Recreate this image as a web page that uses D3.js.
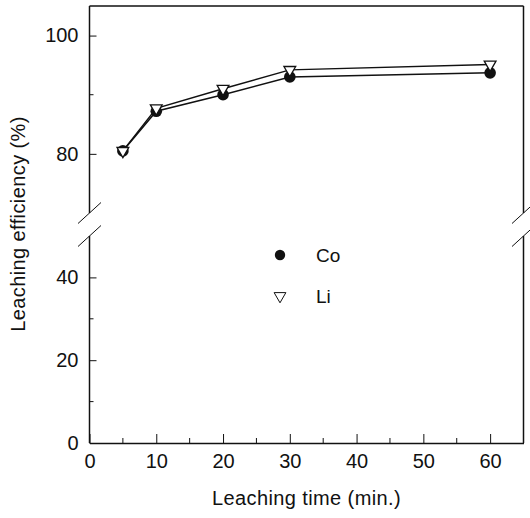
<!DOCTYPE html>
<html>
<head>
<meta charset="utf-8">
<script src="https://cdn.jsdelivr.net/npm/d3@7"></script>
<style>
  html, body { margin: 0; padding: 0; background: #fff; }
  svg { display: block; font-family: "Liberation Sans", Arial, sans-serif; }
</style>
</head>
<body>
<svg width="530" height="518"></svg>
<script>
// data
const times = [5, 10, 20, 30, 60];
const coValues = [80.5, 87.2, 90.0, 93.0, 93.7];
const liValues = [80.5, 87.7, 91.0, 94.2, 95.1];
const seriesNames = ['Co', 'Li'];
const xTicks = [0, 10, 20, 30, 40, 50, 60];
const xMinor = [5, 15, 25, 35, 45, 55];
const yTicksUpper = [80, 100];
const yMinorUpper = [90];
const yTicksLower = [0, 20, 40];
const yMinorLower = [10, 30];

const svg = d3.select('svg');
const left = 89.5, right = 523.5;
const upperTop = 6, upperBottom = 213;
const lowerTop = 236, lowerBottom = 443;

const x = d3.scaleLinear().domain([0, 65]).range([left, right]);
const yUp = d3.scaleLinear().domain([70, 105]).range([upperBottom, upperTop]);
const yLo = d3.scaleLinear().domain([0, 50]).range([lowerBottom, lowerTop]);
const y = v => (v >= 70 ? yUp(v) : yLo(v));

const ink = '#111';

// --- frame (top, right, left axis in two pieces) ---
const frame = svg.append('g').attr('stroke', ink).attr('fill', 'none');
frame.append('line').attr('x1', left).attr('x2', right).attr('y1', upperTop).attr('y2', upperTop).attr('stroke-width', 1.3);
[left, right].forEach(px => {
    frame.append('line').attr('x1', px).attr('x2', px).attr('y1', upperTop).attr('y2', upperBottom).attr('stroke-width', 1.5);
    frame.append('line').attr('x1', px).attr('x2', px).attr('y1', lowerTop).attr('y2', lowerBottom).attr('stroke-width', 1.5);
    // break marks
    [upperBottom, lowerTop].forEach(py => {
        frame.append('line')
            .attr('x1', px - 11.5).attr('y1', py + 10.5)
            .attr('x2', px + 11.5).attr('y2', py - 10.5)
            .attr('stroke-width', 1);
    });
});

// --- x axis ---
const xAxis = d3.axisBottom(x).tickValues(xTicks).tickSize(-9).tickSizeOuter(0).tickPadding(11);
const gx = svg.append('g').attr('transform', `translate(0,${lowerBottom})`).call(xAxis);
gx.select('.domain').attr('stroke', ink).attr('stroke-width', 1.5);
gx.selectAll('.tick line').attr('stroke', ink).attr('stroke-width', 1);
gx.selectAll('.tick text').attr('fill', ink).style('font-size', '20px');
svg.append('g').selectAll('line').data(xMinor).join('line')
    .attr('x1', d => x(d)).attr('x2', d => x(d))
    .attr('y1', lowerBottom).attr('y2', lowerBottom - 5)
    .attr('stroke', ink).attr('stroke-width', 1);

// --- y axes (upper and lower segment) ---
function yAxisPart(scale, ticks, minor) {
    const g = svg.append('g').attr('transform', `translate(${left},0)`)
        .call(d3.axisLeft(scale).tickValues(ticks).tickSize(-7).tickPadding(11));
    g.select('.domain').remove();
    g.selectAll('.tick line').attr('stroke', ink).attr('stroke-width', 1);
    g.selectAll('.tick text').attr('fill', ink).style('font-size', '20px');
    g.selectAll('.minor').data(minor).join('line')
        .attr('class', 'minor')
        .attr('x1', 0).attr('x2', 4)
        .attr('y1', d => scale(d)).attr('y2', d => scale(d))
        .attr('stroke', ink).attr('stroke-width', 1);
}
yAxisPart(yUp, yTicksUpper, yMinorUpper);
yAxisPart(yLo, yTicksLower, yMinorLower);

// --- axis titles ---
svg.append('text')
    .attr('x', (left + right) / 2).attr('y', 505)
    .attr('text-anchor', 'middle')
    .style('font-size', '20px').style('letter-spacing', '0.4px')
    .attr('fill', ink)
    .text('Leaching time (min.)');

svg.append('text')
    .attr('transform', 'translate(25,224) rotate(-90)')
    .attr('text-anchor', 'middle')
    .style('font-size', '20px').style('letter-spacing', '0.4px')
    .attr('fill', ink)
    .text('Leaching efficiency (%)');

// --- lines ---
const line = d3.line().x(d => x(d[0])).y(d => y(d[1]));
const coPts = times.map((t, i) => [t, coValues[i]]);
const liPts = times.map((t, i) => [t, liValues[i]]);

svg.append('path').datum(coPts).attr('d', line)
    .attr('fill', 'none').attr('stroke', ink).attr('stroke-width', 1.5);
svg.append('path').datum(liPts).attr('d', line)
    .attr('fill', 'none').attr('stroke', ink).attr('stroke-width', 1.5);

// --- markers ---
const triDown = d3.symbol().type(d3.symbolTriangle).size(60);

svg.append('g').selectAll('circle').data(coPts).join('circle')
    .attr('cx', d => x(d[0])).attr('cy', d => y(d[1])).attr('r', 5.8)
    .attr('fill', ink);

svg.append('g').selectAll('path').data(liPts).join('path')
    .attr('d', triDown)
    .attr('transform', d => `translate(${x(d[0])},${y(d[1])}) rotate(180)`)
    .attr('fill', '#fff').attr('stroke', ink).attr('stroke-width', 1.3);

// --- legend ---
const legend = svg.append('g');
legend.append('circle').attr('cx', 280).attr('cy', 255).attr('r', 5.2).attr('fill', ink);
legend.append('path').attr('d', triDown)
    .attr('transform', 'translate(280,296) rotate(180)')
    .attr('fill', '#fff').attr('stroke', ink).attr('stroke-width', 1);
legend.selectAll('text').data(seriesNames).join('text')
    .attr('x', 316).attr('y', (d, i) => 262 + i * 41)
    .style('font-size', '19px')
    .attr('fill', ink)
    .text(d => d);
</script>
</body>
</html>
